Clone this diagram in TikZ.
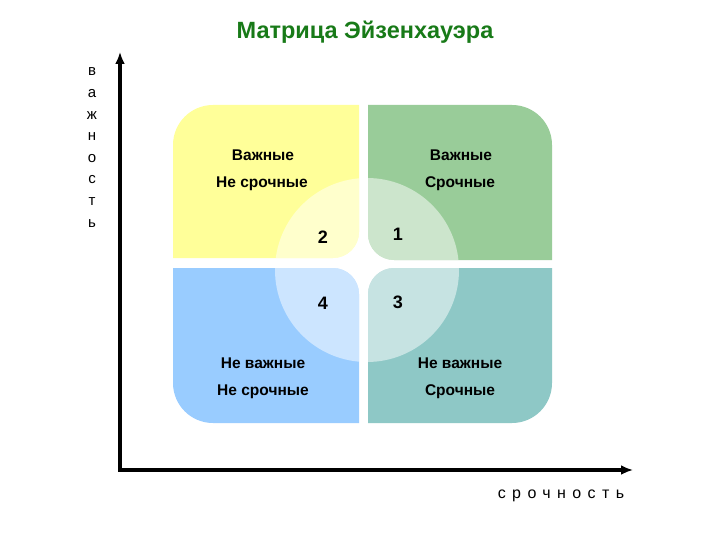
\documentclass[tikz,border=0pt]{standalone}
\usepackage{fontspec}
\setmainfont{Liberation Sans}
\newfontfamily\spacedfont[LetterSpace=40]{Liberation Sans}
\usetikzlibrary{arrows.meta}

\definecolor{titlegreen}{RGB}{24,122,24}
\definecolor{qyellow}{RGB}{255,255,153}
\definecolor{qgreen}{RGB}{153,204,153}
\definecolor{qblue}{RGB}{153,204,255}
\definecolor{qteal}{RGB}{142,200,198}

\tikzset{
  lbl/.style={font=\fontsize{15.5}{17}\selectfont\bfseries},
  num/.style={font=\fontsize{18}{20}\selectfont\bfseries},
  axis/.style={line width=4pt, -{Latex[length=12pt,width=10pt]}},
  glow/.style={white, opacity=0.5},
}

\begin{document}
\begin{tikzpicture}[x=1pt, y=-1pt]
        \useasboundingbox[fill=white] (0,0) rectangle (720,540);

        % quadrants
        \fill[qyellow, save path=\pY] (173,258) -- (173,145) arc[start angle=180, end angle=270, radius=40]
          -- (359,105) -- (359,232) arc[start angle=0, end angle=90, radius=26] -- cycle;
        \fill[qgreen, save path=\pG] (368,105) -- (512,105) arc[start angle=270, end angle=360, radius=40]
          -- (552,260) -- (394,260) arc[start angle=90, end angle=180, radius=26] -- cycle;
        \fill[qblue, save path=\pB] (173,268) -- (333,268) arc[start angle=270, end angle=360, radius=26]
          -- (359,423) -- (213,423) arc[start angle=90, end angle=180, radius=40] -- cycle;
        \fill[qteal, save path=\pT] (394,268) -- (552,268) -- (552,383) arc[start angle=0, end angle=90, radius=40]
          -- (368,423) -- (368,294) arc[start angle=180, end angle=270, radius=26] -- cycle;

        % light circle
        \foreach \p in {\pY,\pG,\pB,\pT} {
          \begin{scope}
            \clip[use path=\p];
            \fill[glow] (367,270) circle[radius=92];
          \end{scope}
        }

        % title
        \node[text=titlegreen, font=\fontsize{23.5}{25}\selectfont\bfseries] (title) at (365,32) {Матрица Эйзенхауэра};

        % labels
        \node[lbl] (yl1) at (263,155) {Важные};
        \node[lbl] (yl2) at (262,184) {Не срочные};
        \node[lbl] (gl1) at (461,155) {Важные};
        \node[lbl] (gl2) at (460,184) {Срочные};
        \node[lbl] (bl1) at (263,363) {Не важные};
        \node[lbl] (bl2) at (263,392) {Не срочные};
        \node[lbl] (tl1) at (460,363) {Не важные};
        \node[lbl] (tl2) at (460,392) {Срочные};

        \node[num] (n2) at (323,237) {2};
        \node[num] (n1) at (398,234) {1};
        \node[num] (n4) at (323,303) {4};
        \node[num] (n3) at (398,302) {3};

        % axes
        \coordinate (origin) at (120,470);
        \coordinate (ytip) at (120,52);
        \coordinate (xtip) at (633,470);
        \draw[axis] (origin) -- (ytip);
        \draw[axis] ([xshift=-2pt]origin) -- (xtip);

        \foreach \c [count=\i] in {в,а,ж,н,о,с,т,ь}
          \node[font=\fontsize{15}{16}\selectfont] (v\i) at (92,50.4+21.6*\i) {\c};
        \node[font=\fontsize{16}{18}\spacedfont] (xlabel) at (561,496) {срочность};
      \end{tikzpicture}
\end{document}
